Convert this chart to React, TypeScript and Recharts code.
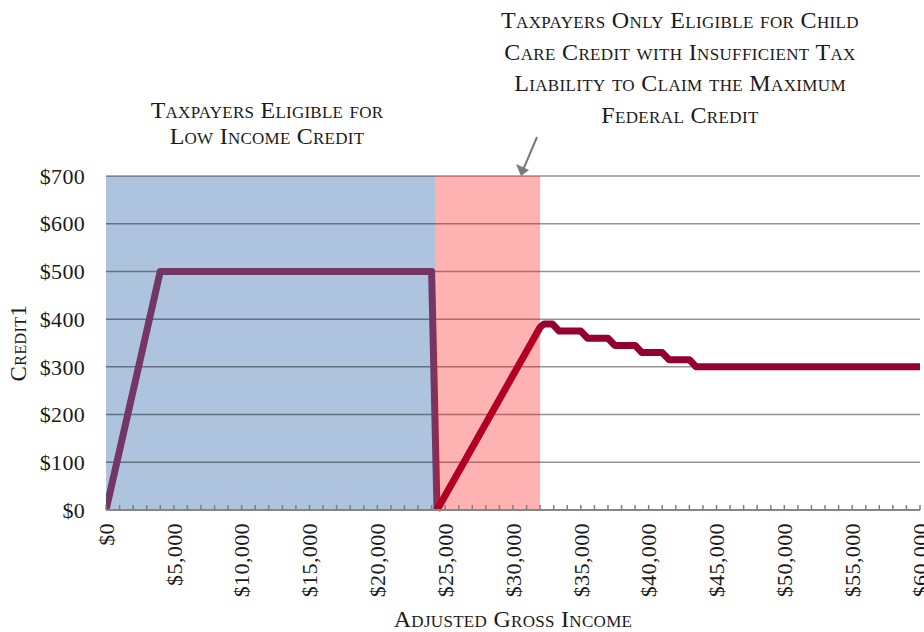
import React from 'react';
import { LineChart, Line, XAxis, YAxis, CartesianGrid, ReferenceArea } from 'recharts';

// ---- data ----
const lowIncomeX = [0, 4000, 24000, 24400];
const lowIncomeY = [0, 500, 500, 0];
const childCareX = [24400, 32000, 32300, 32900, 33400, 35000, 35500, 37000, 37500, 39000, 39500, 41000, 41500, 43000, 43500, 60000];
const childCareY = [0, 383, 390, 390, 375, 375, 360, 360, 345, 345, 330, 330, 315, 315, 300, 300];
const yTicks = [0, 100, 200, 300, 400, 500, 600, 700];
const xLabelTicks = [0, 5000, 10000, 15000, 20000, 25000, 30000, 35000, 40000, 45000, 50000, 55000, 60000];
const xMinorStep = 1000;
const lowIncomeRegion = [0, 24300];
const childCareRegion = [24300, 32000];
const leftNote = ['Taxpayers Eligible for', 'Low Income Credit'];
const rightNote = [
  'Taxpayers Only Eligible for Child',
  'Care Credit with Insufficient Tax',
  'Liability to Claim the Maximum',
  'Federal Credit',
];

const lowIncomeData = lowIncomeX.map((x, i) => ({ x, y: lowIncomeY[i] }));
const childCareData = childCareX.map((x, i) => ({ x, y: childCareY[i] }));
const xTicks = Array.from({ length: 60000 / xMinorStep + 1 }, (_, i) => i * xMinorStep);

const FONT = '"Liberation Serif", "DejaVu Serif", serif';
const money = (v: number) => '$' + v.toLocaleString('en-US');

const XTick = (props: any) => {
  const { x, y, payload } = props;
  const v = payload.value as number;
  const major = xLabelTicks.includes(v);
  const ly = y + 13;
  return (
    <g>
      <line x1={x} y1={y} x2={x} y2={y - 5} stroke="#7f7f7f" strokeWidth={1.5} />
      {major && (
        <text
          x={x}
          y={ly}
          transform={`rotate(-90 ${x} ${ly})`}
          textAnchor="end"
          dy="0.35em"
          fontFamily={FONT}
          fontSize={22}
          letterSpacing={0.4}
          fill="#1a1a1a"
        >
          {money(v)}
        </text>
      )}
    </g>
  );
};

const YTick = (props: any) => {
  const { x, y, payload } = props;
  return (
    <text x={x} y={y} dy="0.35em" textAnchor="end" fontFamily={FONT} fontSize={22} letterSpacing={0.3} fill="#1a1a1a">
      {money(payload.value)}
    </text>
  );
};

const XLabel = (props: any) => {
  const vb = props.viewBox;
  return (
    <text
      x={vb.x + vb.width / 2}
      y={627}
      textAnchor="middle"
      fontFamily={FONT}
      fontSize={24}
      letterSpacing={0.3}
      fill="#1a1a1a"
      style={{ fontVariant: 'small-caps' }}
    >
      Adjusted Gross Income
    </text>
  );
};

const YLabel = (props: any) => {
  const vb = props.viewBox;
  const cy = vb.y + vb.height / 2;
  const cx = 26;
  return (
    <text
      x={cx}
      y={cy}
      transform={`rotate(-90 ${cx} ${cy})`}
      textAnchor="middle"
      fontFamily={FONT}
      fontSize={23}
      letterSpacing={0.4}
      fill="#1a1a1a"
      style={{ fontVariant: 'small-caps' }}
    >
      Credit1
    </text>
  );
};

export default function App() {
  return (
    <div style={{ position: 'absolute', left: 0, top: 0, width: 924, height: 632, background: '#fff' }}>
      <LineChart
        width={924}
        height={632}
        margin={{ top: 176, right: 4, left: 0, bottom: 0 }}
        style={{ position: 'absolute', left: 0, top: 0 }}
      >
        <ReferenceArea
          x1={lowIncomeRegion[0]}
          x2={lowIncomeRegion[1]}
          y1={0}
          y2={700}
          fill="#ADC3DE"
          fillOpacity={1}
          stroke="none"
          zIndex={-150}
        />
        <CartesianGrid vertical={false} stroke="#000" strokeOpacity={0.42} strokeWidth={1.5} />
        <XAxis
          type="number"
          dataKey="x"
          domain={[0, 60000]}
          ticks={xTicks}
          interval={0}
          tick={<XTick />}
          tickLine={false}
          tickSize={0}
          tickMargin={0}
          height={122}
          axisLine={{ stroke: '#868686', strokeWidth: 2 }}
          allowDataOverflow
          label={<XLabel />}
        />
        <YAxis
          type="number"
          domain={[0, 700]}
          ticks={yTicks}
          interval={0}
          width={106}
          tick={<YTick />}
          tickLine={false}
          axisLine={false}
          tickSize={0}
          tickMargin={21}
          label={<YLabel />}
        />
        <Line
          data={lowIncomeData}
          dataKey="y"
          type="linear"
          stroke="#733766"
          strokeWidth={7}
          strokeLinejoin="round"
          dot={false}
          activeDot={false}
          isAnimationActive={false}
        />
        <Line
          data={childCareData}
          dataKey="y"
          type="linear"
          stroke="#930031"
          strokeWidth={7}
          strokeLinejoin="round"
          dot={false}
          activeDot={false}
          isAnimationActive={false}
        />
        <ReferenceArea
          x1={childCareRegion[0]}
          x2={childCareRegion[1]}
          y1={0}
          y2={700}
          fill="#FF0000"
          fillOpacity={0.3}
          stroke="none"
          zIndex={450}
        />
      </LineChart>
      <svg
        width={924}
        height={632}
        style={{ position: 'absolute', left: 0, top: 0, pointerEvents: 'none' }}
      >
        {leftNote.map((t, i) => (
          <text
            key={t}
            x={267}
            y={118 + i * 26}
            textAnchor="middle"
            fontFamily={FONT}
            fontSize={24}
            letterSpacing={0.25}
            fill="#1a1a1a"
            style={{ fontVariant: 'small-caps' }}
          >
            {t}
          </text>
        ))}
        {rightNote.map((t, i) => (
          <text
            key={t}
            x={680}
            y={28 + i * 31.5}
            textAnchor="middle"
            fontFamily={FONT}
            fontSize={24}
            letterSpacing={0.35}
            fill="#1a1a1a"
            style={{ fontVariant: 'small-caps' }}
          >
            {t}
          </text>
        ))}
        <line x1={537} y1={137} x2={523} y2={170} stroke="#7a7a7a" strokeWidth={2} />
        <path d="M516,164 L529,170 L521,176 z" fill="#7a7a7a" />
      </svg>
    </div>
  );
}
